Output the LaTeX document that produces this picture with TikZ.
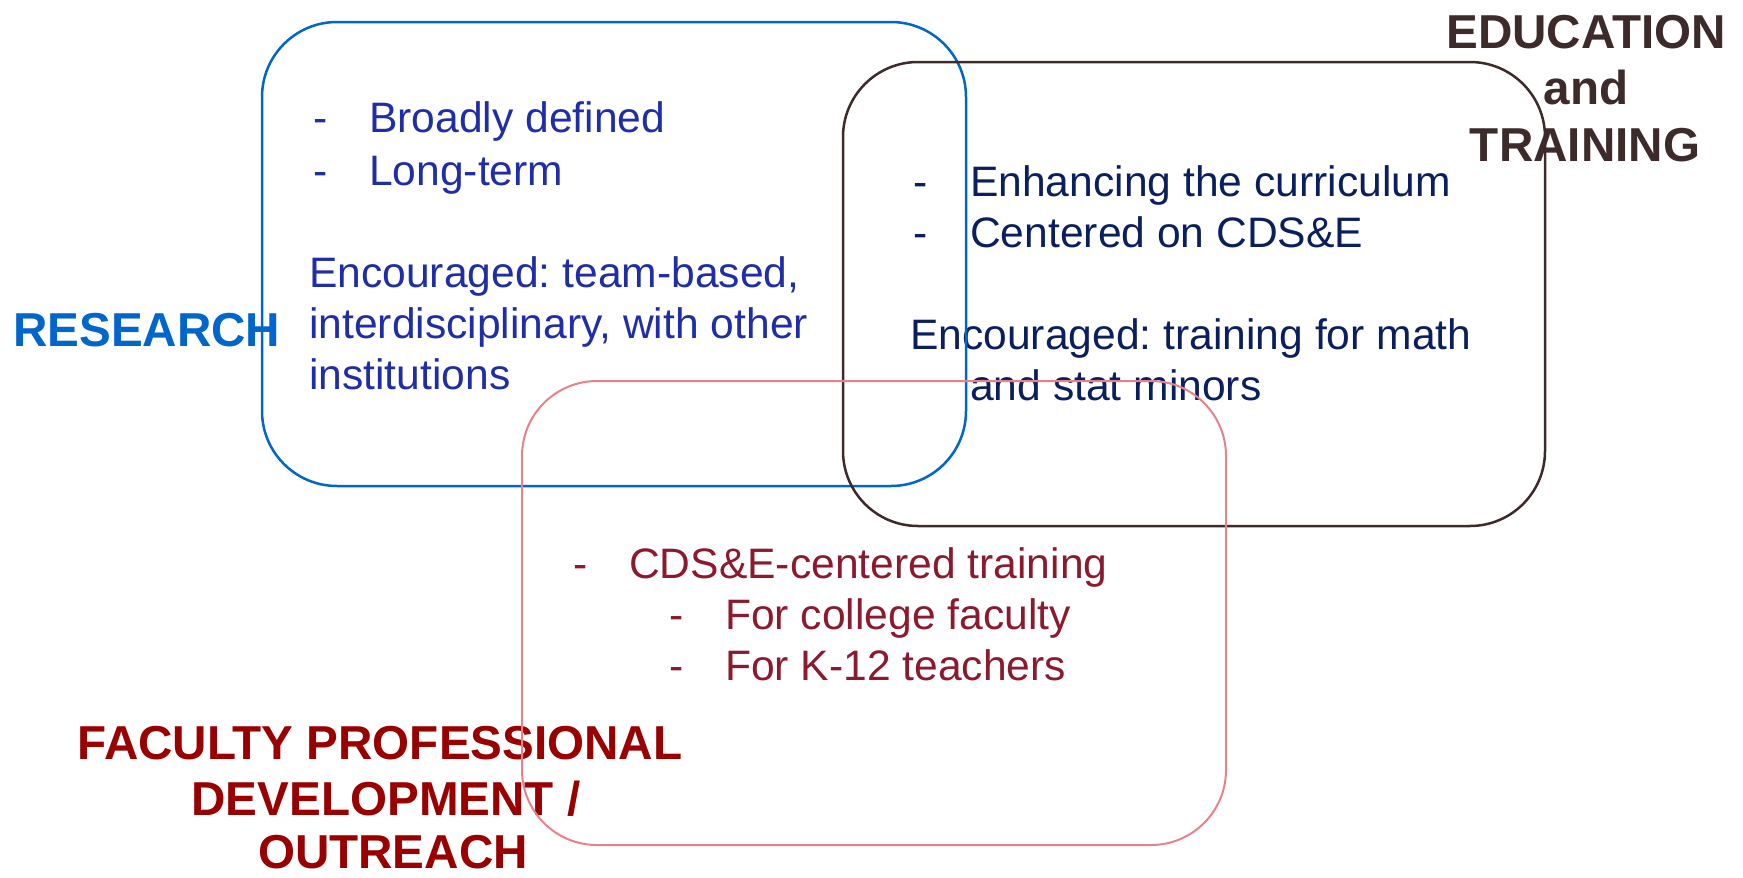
\documentclass[tikz,border=0pt]{standalone}
\usepackage{fontspec}
\setmainfont{Liberation Sans}
\frenchspacing
\definecolor{resblue}{HTML}{0066CC}
\definecolor{restext}{HTML}{1F2DA6}
\definecolor{edubrown}{HTML}{3D2B2B}
\definecolor{edutext}{HTML}{0B1F5E}
\definecolor{facred}{HTML}{990000}
\definecolor{factext}{HTML}{8C1A2E}
\definecolor{pinkline}{HTML}{E8818C}
\begin{document}
\begin{tikzpicture}[x=1pt,y=-1pt,
  body/.style={anchor=base west, inner sep=0pt, font=\fontsize{42.6}{50}\selectfont},
  head/.style={anchor=base, inner sep=0pt, font=\fontsize{47.6}{57}\selectfont\bfseries},
  venn/.style={rounded corners=75pt, line width=2.5pt}]
\useasboundingbox (0,0) rectangle (1743,878);
% headings
\node[head, anchor=base west, text=resblue] (research) at (13,346) {RESEARCH};
\node[head, text=edubrown] (edu1) at (1586,48) {EDUCATION};
\node[head, text=edubrown] (edu2) at (1586,104) {and};
\node[head, text=edubrown] (edu3) at (1585,161) {TRAINING};
\node[head, text=facred] (fac1) at (380,759) {FACULTY PROFESSIONAL};
\node[head, text=facred] (fac2) at (386,815) {DEVELOPMENT /};
\node[head, text=facred] (fac3) at (393,868) {OUTREACH};
% research text
\begin{scope}[every node/.append style={text=restext}]
\node[body] (rd1) at (313,132) {-};
\node[body] (r1) at (369,132) {Broadly defined};
\node[body] (rd2) at (313,185) {-};
\node[body] (r2) at (369,185) {Long-term};
\node[body] (r3) at (309,287) {Encouraged: team-based,};
\node[body] (r4) at (309,338) {interdisciplinary, with other};
\node[body] (r5) at (309,389) {institutions};
\end{scope}
% education text
\begin{scope}[every node/.append style={text=edutext}]
\node[body] (ed1) at (913,196) {-};
\node[body] (e1) at (970,196) {Enhancing the curriculum};
\node[body] (ed2) at (913,247) {-};
\node[body] (e2) at (970,247) {Centered on CDS\&E};
\node[body] (e3) at (910,349) {Encouraged: training for math};
\node[body] (e4) at (970,400) {and stat minors};
\end{scope}
% faculty text
\begin{scope}[every node/.append style={text=factext}]
\node[body] (fd1) at (573,578) {-};
\node[body] (f1) at (629,578) {CDS\&E-centered training};
\node[body] (fd2) at (669,629) {-};
\node[body] (f2) at (725,629) {For college faculty};
\node[body] (fd3) at (669,680) {-};
\node[body] (f3) at (725,680) {For K-12 teachers};
\end{scope}
% boxes
\draw[venn, draw=resblue] (262,22) rectangle (966,486);
\draw[venn, draw=edubrown] (843,62) rectangle (1545,526);
\draw[venn, draw=pinkline, line width=2pt] (522,381) rectangle (1226,845);
\end{tikzpicture}
\end{document}
